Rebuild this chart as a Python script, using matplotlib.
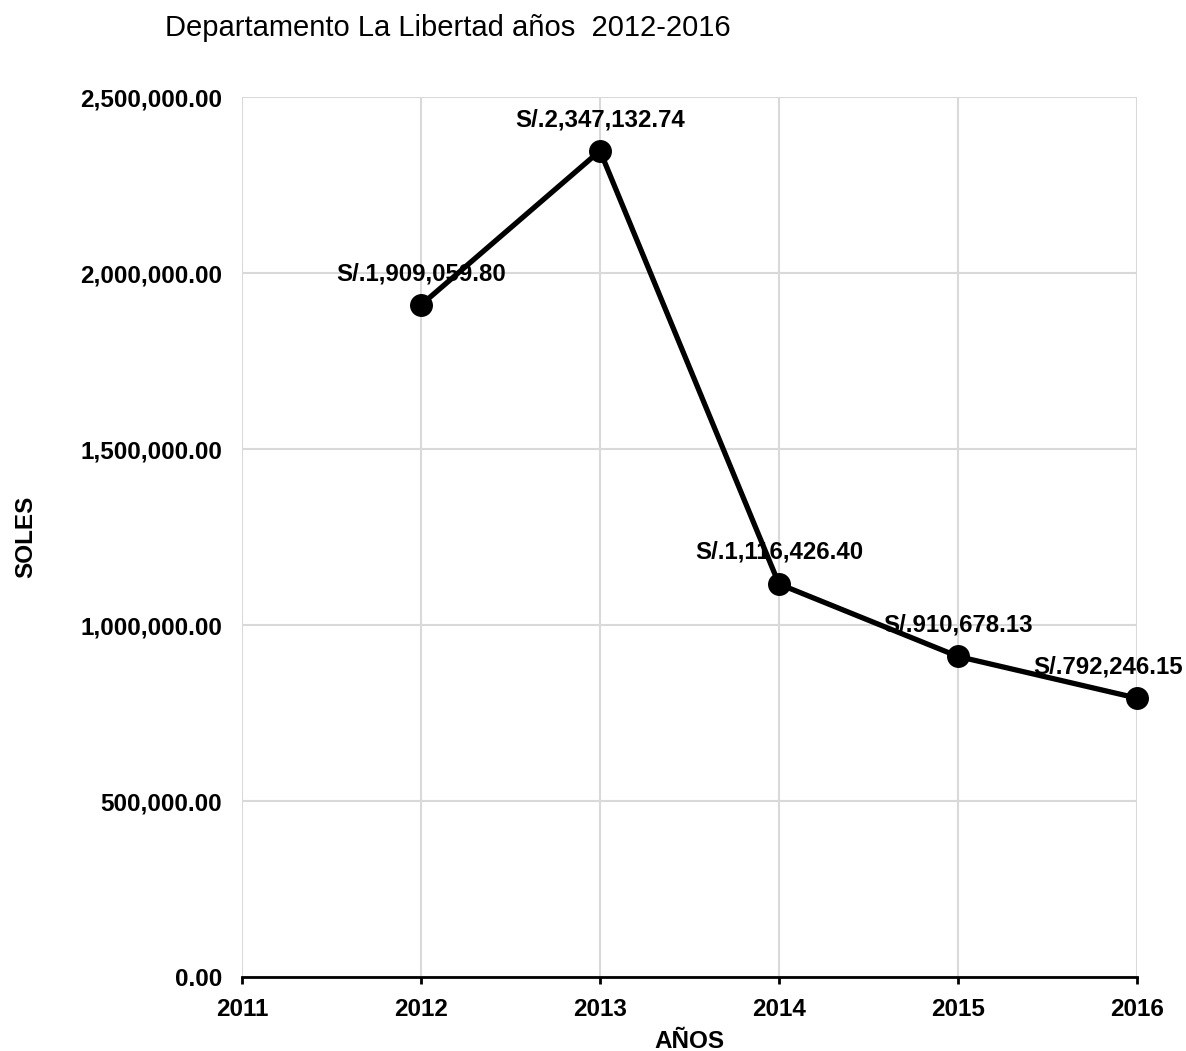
import matplotlib
matplotlib.use("Agg")
import matplotlib.pyplot as plt
from matplotlib.ticker import FuncFormatter, MultipleLocator

years = [2012, 2013, 2014, 2015, 2016]
soles = [1909059.80, 2347132.74, 1116426.40, 910678.13, 792246.15]
labels = ["S/.1,909,059.80", "S/.2,347,132.74", "S/.1,116,426.40", "S/.910,678.13", "S/.792,246.15"]
xticks = [2011, 2012, 2013, 2014, 2015, 2016]

plt.rcParams['font.family'] = ['Liberation Sans', 'DejaVu Sans']

fig = plt.figure(figsize=(11.86, 10.51), dpi=100)
ax = fig.add_axes([0.2040, 0.0704, 0.7547, 0.8373])

ax.plot(years, soles, color='black', lw=3.8, marker='o', ms=15.5, zorder=3, clip_on=False)

offsets = [(0, 17.3), (0, 17.3), (0, 18.7), (0, 18), (-20.5, 18)]
for x, y, t, off in zip(years, soles, labels, offsets):
    ax.annotate(t, (x, y), xytext=off, textcoords='offset points', ha='center', va='baseline',
                fontsize=17.3, fontweight='bold', color='black', zorder=4, annotation_clip=False)

ax.set_xlim(2011, 2016)
ax.set_ylim(0, 2500000)
ax.set_xticks(xticks)
ax.yaxis.set_major_locator(MultipleLocator(500000))
ax.yaxis.set_major_formatter(FuncFormatter(lambda v, p: f"{v:,.2f}"))
ax.grid(True, color='#d9d9d9', lw=1.5)
ax.set_axisbelow(True)
for s in ['top', 'right', 'left']:
    ax.spines[s].set_visible(False)
ax.spines['bottom'].set_color('black')
ax.spines['bottom'].set_linewidth(2)
ax.tick_params(axis='y', length=0, pad=14.4, labelsize=17.5)
ax.tick_params(axis='x', length=5, width=2, direction='out', pad=10, labelsize=17.5)
for lbl in ax.get_xticklabels() + ax.get_yticklabels():
    lbl.set_fontweight('bold')

ax.set_xlabel("AÑOS", fontsize=17.5, fontweight='bold')
ax.set_ylabel("SOLES", fontsize=17.5, fontweight='bold')
ax.xaxis.label.set_va('center')
ax.yaxis.label.set_va('center')
ax.xaxis.set_label_coords(0.5, (977 - 1041) / 880)
ax.yaxis.set_label_coords((26 - 242) / 895, 0.5)

fig.text(165 / 1186, 1 - 36 / 1051, "Departamento La Libertad años  2012-2016", fontsize=21,
         ha='left', va='baseline', color='black')

fig.savefig("out.png", dpi=100)
